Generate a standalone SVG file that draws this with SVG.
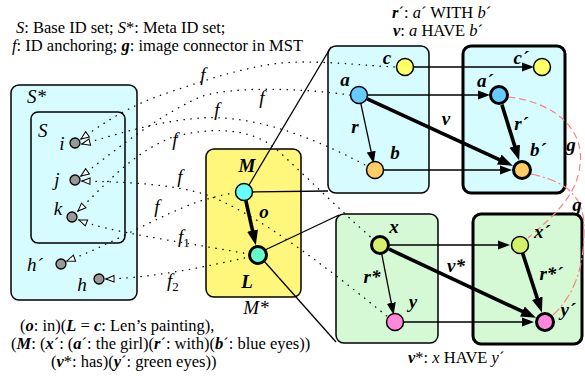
<svg xmlns="http://www.w3.org/2000/svg" width="585" height="376" viewBox="0 0 585 376" font-family="'Liberation Serif','Times New Roman','DejaVu Serif',serif">
<defs>
<style>
text{font-family:"Liberation Serif","Times New Roman","DejaVu Serif",serif;fill:#000}
.t{font-size:16.5px}
.lb{font-size:19px;font-style:italic;font-weight:bold}
.li{font-size:19px;font-style:italic}
.fl{font-size:19px;font-style:italic}
.sub{font-size:13px;font-style:normal}
.bi{font-style:italic;font-weight:bold}
.i{font-style:italic}
.box{stroke:#000;stroke-width:1.5}
.boxT{stroke:#000;stroke-width:3}
.cyan{fill:#d6fcff}
.green{fill:#d4f9d4}
.yel{fill:#fff77c}
.n{stroke:#000;stroke-width:1.5}
.nT{stroke:#000;stroke-width:3}
.g{fill:#999;stroke:#000;stroke-width:1.3}
.dot{fill:none;stroke:#000;stroke-width:1.3;stroke-linecap:round;stroke-dasharray:0.4 6.6;marker-start:url(#open)}
.ln{fill:none;stroke:#000;stroke-width:1.3}
.ar{fill:none;stroke:#000;stroke-width:1.3;marker-end:url(#ah)}
.arT{fill:none;stroke:#000;stroke-width:3.6;marker-end:url(#ahT)}
.gd{fill:none;stroke:#ff7f7f;stroke-width:1.2}
</style>
<marker id="open" markerUnits="userSpaceOnUse" markerWidth="12" markerHeight="10" viewBox="-1 -5 10 10" refX="8" refY="0" orient="auto-start-reverse">
<path d="M0,-3.2 L8,0 L0,3.2 Z" fill="#fff" stroke="#000" stroke-width="1"/>
</marker>
<marker id="ah" markerUnits="userSpaceOnUse" markerWidth="14" markerHeight="10" viewBox="0 -5 14 10" refX="2" refY="0" orient="auto">
<path d="M0,-4.5 L12,0 L0,4.5 Z" fill="#000"/>
</marker>
<marker id="ahT" markerUnits="userSpaceOnUse" markerWidth="16" markerHeight="12" viewBox="0 -6 16 12" refX="3" refY="0" orient="auto">
<path d="M0,-5.5 L15,0 L0,5.5 Z" fill="#000"/>
</marker>
</defs>
<rect width="585" height="376" fill="#fff"/>

<!-- captions -->
<text class="t" x="16" y="33"><tspan class="i">S</tspan>: Base ID set; <tspan class="i">S</tspan>*: Meta ID set;</text>
<text class="t" x="12" y="51"><tspan class="i">f</tspan>: ID anchoring; <tspan class="bi">g</tspan>: image connector in MST</text>
<text class="t" x="392" y="18"><tspan class="bi">r</tspan>´: <tspan class="i">a</tspan>´ WITH <tspan class="i">b</tspan>´</text>
<text class="t" x="393" y="36"><tspan class="bi">v</tspan>: <tspan class="i">a</tspan> HAVE <tspan class="i">b</tspan>´</text>
<text class="t" x="408" y="363"><tspan class="bi">v</tspan>*: <tspan class="i">x</tspan> HAVE <tspan class="i">y</tspan>´</text>
<text class="t" x="20" y="331">(<tspan class="bi">o</tspan>: in)(<tspan class="bi">L</tspan> = <tspan class="bi">c</tspan>: Len’s painting),</text>
<text class="t" x="11" y="349">(<tspan class="bi">M</tspan>: (<tspan class="bi">x</tspan>´: (<tspan class="bi">a</tspan>´: the girl)(<tspan class="bi">r</tspan>´: with)(<tspan class="bi">b</tspan>´: blue eyes))</text>
<text class="t" x="51" y="367">(<tspan class="bi">v</tspan>*: has)(<tspan class="bi">y</tspan>´: green eyes))</text>

<!-- S* / S -->
<g id="Sstar">
<rect class="box cyan" x="11" y="85" width="126" height="215" rx="8"/>
<text class="li" x="27" y="103">S*</text>
</g>
<g id="S">
<rect class="box" fill="none" x="31" y="112" width="94" height="131" rx="7"/>
<text class="li" x="38" y="137">S</text>
</g>

<!-- M* -->
<g id="Mstar">
<rect class="box yel" x="206" y="149" width="95" height="148" rx="8"/>
<text class="li" x="256" y="314" text-anchor="middle">M*</text>
</g>

<!-- boxes right -->
<g id="boxA"><rect class="box cyan" x="328" y="46" width="101" height="147" rx="8"/></g>
<g id="boxA2"><rect class="boxT cyan" x="463" y="46" width="102" height="147" rx="8"/></g>
<g id="boxX"><rect class="box green" x="336" y="214" width="102" height="129" rx="8"/></g>
<g id="boxX2"><rect class="boxT green" x="473" y="214" width="109" height="130" rx="8"/></g>

<!-- connectors -->
<g id="connectors">
<path class="ln" d="M249,185 L331,47"/>
<path class="ln" d="M252,192 L328,191"/>
<path class="ln" d="M265,250 L339,215"/>
<path class="ln" d="M264,261 L336,342"/>
<path class="dot" d="M81,139 C105,122 130,105 170,92 C215,77 260,62 300,62 C340,62 370,66 396,67"/>
<path class="dot" d="M81,176 C110,155 150,120 200,97 C230,86 300,88 350,95"/>
<path class="dot" d="M82,144 C110,137 150,122 200,118 C245,115 300,130 367,166"/>
<path class="dot" d="M78,211 C105,185 130,155 170,138 C210,126 250,128 275,148 C310,180 345,215 373,239"/>
<path class="dot" d="M82,181 C120,182 170,183 207,195 C260,215 330,270 388,317"/>
<path class="dot" d="M67,261 C110,245 160,215 200,201 C215,197 225,194 235,193"/>
<path class="dot" d="M79,220 C110,232 170,240 249,254"/>
<path class="dot" d="M106,279 C150,278 200,268 249,257"/>
<path class="ar" d="M413,67 L524,67"/>
<path class="ar" d="M367.5,95 L480,95"/>
<path class="ar" d="M383.5,170 L502,170"/>
<path class="ar" d="M360.8,103.3 L371.6,153.6"/>
<path class="arT" d="M367.2,98.8 L502,160.8"/>
<path class="arT" d="M501.9,104.6 L515.6,148.9"/>
<path class="ar" d="M389,245 L500,245"/>
<path class="ar" d="M403.5,322 L524,322"/>
<path class="ar" d="M381.7,253.8 L391.7,304.9"/>
<path class="arT" d="M389.1,249.2 L525.1,312.7"/>
<path class="arT" d="M522.6,253.1 L538.2,301.1"/>
<path class="arT" d="M245.8,200.3 L253.2,233.5"/>
<path class="gd" stroke-dasharray="7 4" d="M508,97 C555,102 585,130 580,165 C577,195 555,215 528,238"/>
<path class="gd" stroke-dasharray="9 3 2 3" d="M531,174 C558,180 583,190 584,225 C585,265 575,295 552,316"/>
</g>

<!-- gray ID nodes -->
<g id="i"><circle class="g" cx="75" cy="143" r="5"/><text class="li" x="62" y="150" text-anchor="middle">i</text></g>
<g id="j"><circle class="g" cx="75" cy="180" r="5"/><text class="li" x="57" y="186" text-anchor="middle">j</text></g>
<g id="k"><circle class="g" cx="72" cy="217" r="5"/><text class="li" x="58" y="215" text-anchor="middle">k</text></g>
<g id="hp"><circle class="g" cx="61" cy="264" r="5"/><text class="li" x="35" y="271" text-anchor="middle">h´</text></g>
<g id="h"><circle class="g" cx="99" cy="279" r="5"/><text class="li" x="82" y="291" text-anchor="middle">h</text></g>

<!-- f labels -->
<g id="flabels">
<text class="fl" x="203" y="81" text-anchor="middle">f</text>
<text class="fl" x="262" y="104" text-anchor="middle">f</text>
<text class="fl" x="217" y="116" text-anchor="middle">f</text>
<text class="fl" x="175" y="146" text-anchor="middle">f</text>
<text class="fl" x="180" y="183" text-anchor="middle">f</text>
<text class="fl" x="157" y="213" text-anchor="middle">f</text>
<text class="fl" x="178" y="243">f<tspan class="sub" dy="4">1</tspan></text>
<text class="fl" x="167" y="287">f<tspan class="sub" dy="4">2</tspan></text>
</g>

<!-- M, L -->
<g id="M"><circle class="n" cx="244" cy="192" r="8.5" fill="#66ffff"/><text class="lb" x="247" y="172" text-anchor="middle">M</text></g>
<g id="L"><circle class="nT" cx="258" cy="255" r="8.5" fill="#66ffcc"/><text class="lb" x="247" y="288" text-anchor="middle">L</text></g>
<text class="lb" x="264" y="218" text-anchor="middle">o</text>

<!-- box A nodes -->
<g id="c"><circle class="n" cx="405" cy="67" r="8.5" fill="#ffff66"/><text class="lb" x="387" y="64" text-anchor="middle">c</text></g>
<g id="a"><circle class="n" cx="359" cy="95" r="8.5" fill="#66ccff"/><text class="lb" x="345" y="86" text-anchor="middle">a</text></g>
<g id="b"><circle class="n" cx="375" cy="170" r="8.5" fill="#ffcc66"/><text class="lb" x="395" y="159" text-anchor="middle">b</text></g>
<text class="lb" x="355" y="133" text-anchor="middle">r</text>
<text class="lb" x="446" y="125" text-anchor="middle">v</text>

<g id="cp"><circle class="n" cx="542" cy="67" r="8.5" fill="#ffff66"/><text class="lb" x="521" y="64" text-anchor="middle">c´</text></g>
<g id="ap"><circle class="nT" cx="499" cy="95" r="8.5" fill="#66ccff"/><text class="lb" x="485" y="87" text-anchor="middle">a´</text></g>
<g id="bp"><circle class="nT" cx="522" cy="170" r="8.5" fill="#ffcc66"/><text class="lb" x="538" y="156" text-anchor="middle">b´</text></g>
<text class="lb" x="521" y="130" text-anchor="middle">r´</text>
<text class="lb" x="571" y="151" text-anchor="middle">g</text>
<text class="lb" x="577" y="211" text-anchor="middle">g</text>

<!-- box X nodes -->
<g id="x"><circle class="nT" cx="380" cy="245" r="8.5" fill="#d4f06a"/><text class="lb" x="394" y="233" text-anchor="middle">x</text></g>
<g id="y"><circle class="n" cx="395" cy="322" r="8.5" fill="#ff88dd"/><text class="lb" x="413" y="308" text-anchor="middle">y</text></g>
<text class="lb" x="372" y="283" text-anchor="middle">r*</text>
<text class="lb" x="456" y="272" text-anchor="middle">v*</text>
<g id="xp"><circle class="n" cx="520" cy="245" r="8.5" fill="#d4f06a"/><text class="lb" x="542" y="238" text-anchor="middle">x´</text></g>
<g id="yp"><circle class="nT" cx="545" cy="322" r="8.5" fill="#ff88dd"/><text class="lb" x="568" y="316" text-anchor="middle">y´</text></g>
<text class="lb" x="551" y="280" text-anchor="middle">r*´</text>
</svg>
